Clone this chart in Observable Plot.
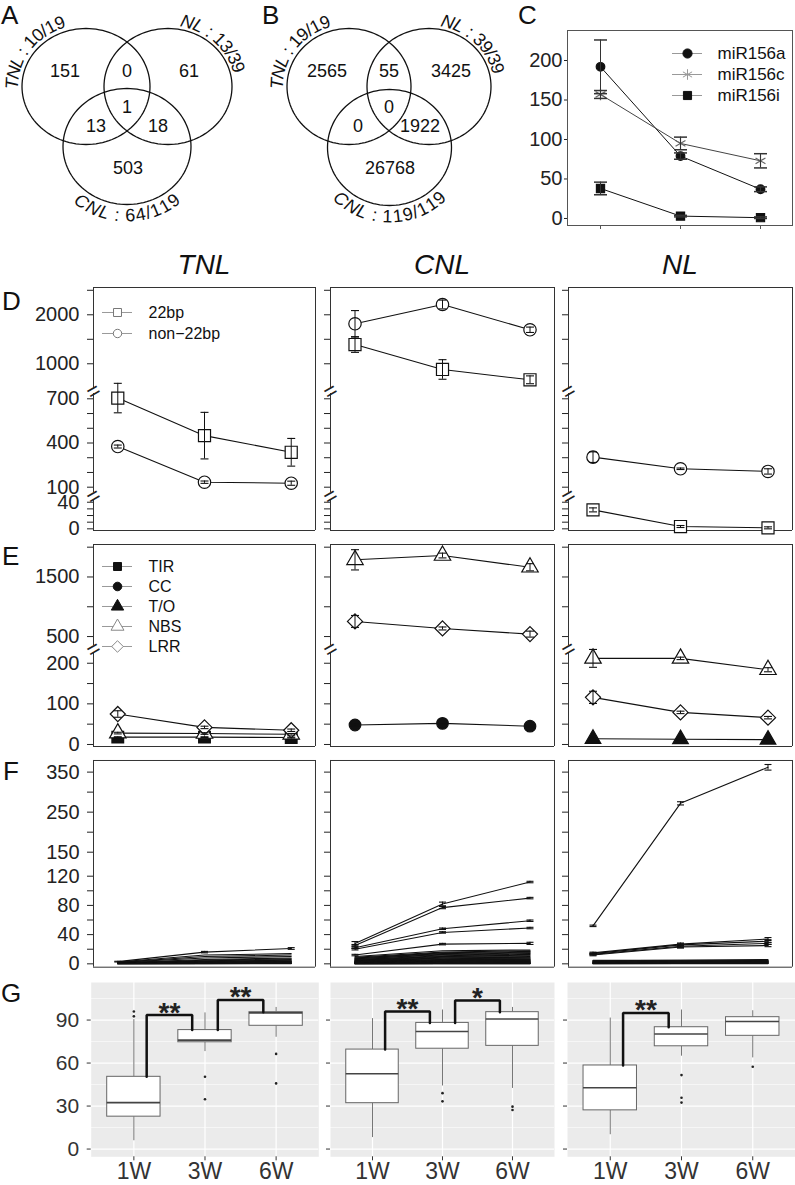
<!DOCTYPE html>
<html>
<head>
<meta charset="utf-8">
<script src="https://cdn.jsdelivr.net/npm/d3@7"></script>
<script src="https://cdn.jsdelivr.net/npm/@observablehq/plot@0.6"></script>
<style>
  html, body { margin: 0; padding: 0; background: #fff; }
  #fig { position: relative; width: 795px; height: 1185px; overflow: hidden; background: #fff;
         font-family: "Liberation Sans", Arial, sans-serif; color: #111; }
  .lbl { position: absolute; line-height: 1; white-space: nowrap; }
  .letter { font-size: 26px; }
  .title { font-size: 28px; font-style: italic; width: 200px; text-align: center; }
</style>
</head>
<body>
<div id="fig"></div>
<script>
// ================= DATA =================
const weeks = ["1W", "3W", "6W"];
const groups = ["TNL", "CNL", "NL"];

// A, B : Venn diagrams (regions: TNL only, TNL∩NL, NL only, all three, TNL∩CNL, NL∩CNL, CNL only)
const vennSets = ["TNL", "NL", "CNL"];
const vennFracA = ["10/19", "13/39", "64/119"];
const vennFracB = ["19/19", "39/39", "119/119"];
const vennCountsA = [151, 0, 61, 1, 13, 18, 503];
const vennCountsB = [2565, 55, 3425, 0, 0, 1922, 26768];

// C : miR156 abundance
const mirNames = ["miR156a", "miR156c", "miR156i"];
const mirMean = [[192, 79, 37], [157, 95, 73], [38, 3, 1]];
const mirErr = [[34, 4, 3], [5, 8, 9], [8, 1, 1]];

// D : 22bp vs non-22bp (rows: TNL, CNL, NL)
const lenClasses = ["22bp", "non−22bp"];
const d22Mean = [[705, 450, 337], [1393, 884, 673], [28.5, 3.5, 1.5]];
const d22Err = [[100, 158, 94], [160, 200, 80], [3, 1.5, 1.5]];
const dNonMean = [[376, 134, 127], [1816, 2210, 1694], [304, 225, 207]];
const dNonErr = [[10, 8, 14], [270, 90, 55], [36, 5, 18]];

// E : domains
const domainNames = ["TIR", "CC", "T/O", "NBS", "LRR"];
const eSeriesTNL = ["TIR", "NBS", "LRR"];
const eMeanTNL = [[18, 18, 17], [28, 27, 25], [75, 42, 35]];
const eErrTNL = [[1, 1, 1], [2, 2, 2], [8, 3, 3]];
const eSeriesCNL = ["CC", "NBS", "LRR"];
const eMeanCNL = [[48, 52, 45], [1788, 1860, 1663], [754, 636, 541]];
const eErrCNL = [[2, 2, 2], [170, 40, 60], [100, 25, 50]];
const eSeriesNL = ["T/O", "NBS", "LRR"];
const eMeanNL = [[14, 13, 12], [212, 212, 184], [116, 79, 66]];
const eErrNL = [[1, 1, 1], [22, 3, 5], [15, 3, 3]];

// F : individual genes
const fLinesTNL = [[3,16,21],[2.5,12,14],[2,10,12],[2,8,10],[1.5,6,8],[1.5,5,7],[1,4,6],[1,3.5,5],[1,3,4],[1,2.5,3.5],[0.8,2,3],[0.6,1.5,2.5],[0.5,1.2,2],[0.5,1,1.5],[0.4,0.8,1.2],[0.3,0.6,1],[0.2,0.5,0.8],[0.2,0.3,0.5],[0.1,0.2,0.3]];
const fErrTNL = [[0.5, 1, 1.2]];
const fLinesCNL = [[28,82,112],[25,77,90],[22,48,59],[20,43,49],[12,27,28],[10,18,19],[9,16,18],[8,15,17],[8,14,16],[7,13,15],[7,12,14],[6,11,13],[6,10,12],[5,10,11],[5,9,10],[4,8,9],[4,8,8],[4,7,8],[3,6,7],[3,6,6],[3,5,6],[2,5,5],[2,4,5],[2,4,4],[2,3,4],[1.5,3,3],[1.5,2.5,3],[1,2,2.5],[1,2,2],[1,1.5,2],[0.8,1.2,1.5],[0.6,1,1.2],[0.5,0.8,1],[0.4,0.6,0.8],[0.3,0.5,0.6],[0.2,0.4,0.5],[0.1,0.3,0.3],[0.1,0.2,0.2]];
const fErrCNL = [[2.5, 2.5, 1], [1.5, 1.5, 1], [1, 1, 1], [1, 1, 1], [1, 1, 1.5]];
const fLinesNL = [[52,272,362],[15,27,34],[14,26,31],[13,24,28],[12,23,25],[5,5,6],[4,5,5],[4,4,4.5],[3,4,4],[3,3,3.5],[2,3,3],[2,2.5,3],[2,2,2.5],[1.5,2,2],[1,1.5,2],[1,1,1.5],[0.8,1,1],[0.5,0.8,0.8],[0.3,0.5,0.5],[0.2,0.3,0.3]];
const fErrNL = [[1, 4, 7], [1, 1.5, 2], [1, 1.5, 2], [1, 1.5, 1.5], [1, 1.5, 1.5]];

// G : boxplot statistics (rows TNL, CNL, NL; cols 1W, 3W, 6W)
const gQ1 = [[22.6, 74.5, 86], [32, 70, 72], [27, 71.7, 79]];
const gMed = [[32.4, 76, 95], [52.5, 82, 90.7], [42.8, 80.3, 89]];
const gQ3 = [[50.4, 83, 95.5], [69.4, 88, 95.5], [58.3, 85, 92]];
const gLo = [[5.8, 68, 78], [8, 44, 42.3], [10, 64.8, 63.6]];
const gHi = [[90.3, 95, 98.8], [91, 97, 98.8], [91.4, 97, 96.5]];
const gOutTNL = [[96, 92.6], [50.4, 34.7], [66.4, 45.8]];
const gOutCNL = [[], [39, 33.3], [29.6, 27.3]];
const gOutNL = [[], [51.6, 35.8, 32.4], [57.4]];
const gSigTNL = [[1, 2, 93.5, "**"], [2, 3, 104, "**"]];
const gSigCNL = [[1, 2, 96, "**"], [2, 3, 103.7, "*"]];
const gSigNL = [[1, 2, 95, "**"]];

// ================= LAYOUT / STYLE =================
const FONT = '"Liberation Sans", Arial, Helvetica, sans-serif';
const FR = "#333";
const fig = document.getElementById("fig");
const xDomLine = [0.72, 3.28];
const colX = {TNL: [93, 315], CNL: [330, 554], NL: [568, 792]};
const gColX = {TNL: [90.7, 318.3], CNL: [330, 554], NL: [567, 795]};

function mount(svg, left, top) {
  svg.style.position = "absolute";
  svg.style.left = left + "px";
  svg.style.top = top + "px";
  fig.appendChild(svg);
}
function styleObj(fs) {
  return {background: "transparent", overflow: "visible", fontFamily: FONT, fontSize: fs + "px", color: "#111", maxWidth: "none"};
}
function html(text, cls, left, top) {
  const d = document.createElement("div");
  d.className = "lbl " + cls;
  d.textContent = text;
  d.style.left = left + "px";
  d.style.top = top + "px";
  fig.appendChild(d);
}
const capSym = {draw(ctx, size) { const w = Math.sqrt(size) / 2; ctx.moveTo(-w, 0); ctx.lineTo(w, 0); }};
const capR = px => px / Math.sqrt(Math.PI);

const SYM = {
  "22bp": {symbol: "square", r: 6.8, fill: "white", stroke: "#111"},
  "non−22bp": {symbol: "circle", r: 6.2, fill: "white", stroke: "#111"},
  TIR: {symbol: "square", r: 6.6, fill: "#111", stroke: "#111"},
  CC: {symbol: "circle", r: 5.8, fill: "#111", stroke: "#111"},
  "T/O": {symbol: "triangle", r: 5.8, fill: "#111", stroke: "#111"},
  NBS: {symbol: "triangle", r: 6.1, fill: "white", stroke: "#111"},
  LRR: {symbol: "diamond2", r: 6.8, fill: "white", stroke: "#111"},
  miR156a: {symbol: "circle", r: 4.3, fill: "#111", stroke: "#111"},
  miR156c: {symbol: "asterisk", r: 5.4, fill: "none", stroke: "#666"},
  miR156i: {symbol: "square", r: 4.6, fill: "#111", stroke: "#111"}
};
const LSYM = {
  "22bp": {symbol: "square", r: 4.5, fill: "white", stroke: "#777"},
  "non−22bp": {symbol: "circle", r: 4.2, fill: "white", stroke: "#777"},
  TIR: {symbol: "square", r: 4.5, fill: "#111", stroke: "#111"},
  CC: {symbol: "circle", r: 4.3, fill: "#111", stroke: "#111"},
  "T/O": {symbol: "triangle", r: 4.6, fill: "#111", stroke: "#111"},
  NBS: {symbol: "triangle", r: 4.8, fill: "white", stroke: "#888"},
  LRR: {symbol: "diamond2", r: 5.2, fill: "white", stroke: "#888"},
  miR156a: {symbol: "circle", r: 4.6, fill: "#111", stroke: "#111"},
  miR156c: {symbol: "asterisk", r: 5, fill: "none", stroke: "#999"},
  miR156i: {symbol: "square", r: 4.6, fill: "#111", stroke: "#111"}
};

function rowsOf(names, means, errs) {
  return names.flatMap((s, si) => means[si].map((m, wi) => ({series: s, week: wi + 1, mean: m, err: errs && errs[si] ? errs[si][wi] : 0})));
}

// ---------- Venn ----------
const mctx = document.createElement("canvas").getContext("2d");
function arcText(name, frac, {c, rx, ry, off, start, center, dir, fs}) {
  const parts = [{s: name, it: true}, {s: " : " + frac, it: false}];
  const chars = [];
  for (const p of parts) {
    mctx.font = (p.it ? "italic " : "") + fs + 'px "Liberation Sans"';
    for (const ch of p.s) chars.push({ch, it: p.it, w: mctx.measureText(ch).width});
  }
  const total = d3.sum(chars, d => d.w);
  const Rmid = (rx + ry) / 2 + off + fs * 0.36;
  const deg = 180 / Math.PI;
  const a0 = start !== undefined ? start : center + (total / 2) / Rmid * deg;
  let s = 0;
  return chars.map(d => {
    const a = (a0 + dir * (s + d.w / 2) / Rmid * deg) / deg;
    s += d.w;
    const rb = dir > 0 ? off : off + fs * 0.72;
    return {ch: d.ch, it: d.it, x: c[0] + (rx + rb) * Math.cos(a), y: c[1] + (ry + rb) * Math.sin(a),
            rot: a * deg + (dir > 0 ? 90 : -90)};
  });
}
function vennPlot(counts, fracs, cfg) {
  const {left, cx, L, R, B, rx, ry} = cfg;
  const circ = [L, R, B];
  const ell = circ.flatMap((c, k) => d3.range(0, 360, 3).map(a => ({k, x: c[0] + rx * Math.cos(a * Math.PI / 180), y: c[1] + ry * Math.sin(a * Math.PI / 180)})));
  const regionPos = [[-62, 71], [0, 71], [62, 71], [0, 107], [-31, 126], [31, 126], [1, 168]];
  const regions = counts.map((v, i) => ({v, x: cx + regionPos[i][0], y: regionPos[i][1]}));
  const chars = [
    ...arcText(vennSets[0], fracs[0], {c: L, rx, ry, off: 4, start: 178, dir: 1, fs: 18}),
    ...arcText(vennSets[1], fracs[1], {c: R, rx, ry, off: 3, start: 280, dir: 1, fs: 18}),
    ...arcText(vennSets[2], fracs[2], {c: B, rx, ry, off: 4, center: 90, dir: -1, fs: 18})
  ];
  const svg = Plot.plot({
    width: 262, height: 240, margin: 0, style: styleObj(18),
    x: {type: "identity", axis: null}, y: {type: "identity", axis: null},
    marks: [
      Plot.line(ell, {x: "x", y: "y", z: "k", curve: "linear-closed", stroke: "#111", strokeWidth: 1.3}),
      Plot.text(regions, {x: "x", y: "y", text: d => String(d.v), fontSize: 18, fill: "#111"}),
      Plot.text(chars.filter(d => d.it), {x: "x", y: "y", text: "ch", rotate: "rot", fontStyle: "italic", fontSize: 18, lineAnchor: "bottom", fill: "#111"}),
      Plot.text(chars.filter(d => !d.it), {x: "x", y: "y", text: "ch", rotate: "rot", fontSize: 18, lineAnchor: "bottom", fill: "#111"})
    ]
  });
  mount(svg, left, 0);
}
vennPlot(vennCountsA, vennFracA, {left: 0, cx: 126.5, L: [85.5, 86], R: [167.5, 86], B: [126.5, 146], rx: 64, ry: 58});
vennPlot(vennCountsB, vennFracB, {left: 260, cx: 128.5, L: [88.5, 86], R: [168.5, 86], B: [129, 147], rx: 62, ry: 58});

// ---------- legend ----------
function legendPlot(names, {left, top, rowH, fontSize, textX}) {
  const n = names.length;
  const marks = [Plot.ruleY(names, {y: d => d, x1: 0, x2: 30, stroke: "#999", strokeWidth: 1})];
  for (const nm of names) marks.push(Plot.dot([nm], {x: 15, y: d => d, strokeWidth: 1, ...LSYM[nm]}));
  marks.push(Plot.text(names, {x: textX, y: d => d, text: d => d, textAnchor: "start", fontSize, fill: "#111"}));
  const svg = Plot.plot({
    width: 150, height: 20 + (n - 1) * rowH, margin: 0, style: styleObj(fontSize),
    x: {type: "identity", axis: null},
    y: {type: "point", domain: names, range: [10, 10 + (n - 1) * rowH], padding: 0, align: 0.5, axis: null},
    marks
  });
  mount(svg, left, top - 10);
}

// ---------- C ----------
(function buildC() {
  const x0 = 567, x1 = 792, y0 = 30, y1 = 225, ml = 45, mr = 3, mt = 2, mb = 8;
  const pts = rowsOf(mirNames, mirMean, mirErr);
  const marks = [
    Plot.frame({stroke: "#555"}),
    Plot.axisY({ticks: [0, 50, 100, 150, 200], tickSize: 3, tickPadding: 2, fontSize: 20, color: "#222", label: null}),
    Plot.axisX({ticks: [1, 2, 3], tickFormat: () => "", tickSize: 4, color: "#555", label: null})
  ];
  for (const s of mirNames) marks.push(Plot.line(pts.filter(d => d.series === s), {x: "week", y: "mean", stroke: s === "miR156c" ? "#444" : "#111", strokeWidth: 1}));
  for (const s of mirNames) marks.push(Plot.dot(pts.filter(d => d.series === s), {x: "week", y: "mean", strokeWidth: 1.2, ...SYM[s]}));
  marks.push(Plot.ruleX(pts, {x: "week", y1: d => d.mean - d.err, y2: d => d.mean + d.err, stroke: "#333", strokeWidth: 1}));
  marks.push(Plot.dot(pts, {x: "week", y: d => d.mean - d.err, symbol: capSym, r: capR(13), fill: "none", stroke: "#333"}));
  marks.push(Plot.dot(pts, {x: "week", y: d => d.mean + d.err, symbol: capSym, r: capR(13), fill: "none", stroke: "#333"}));
  const svg = Plot.plot({
    width: x1 - x0 + ml + mr, height: y1 - y0 + mt + mb,
    marginLeft: ml, marginRight: mr, marginTop: mt, marginBottom: mb, style: styleObj(20),
    x: {domain: [0.5875, 3.4], label: null}, y: {domain: [-8.9, 238], label: null}, marks
  });
  mount(svg, x0 - ml, y0 - mt);
  legendPlot(mirNames, {left: 672, top: 52, rowH: 21.5, fontSize: 17, textX: 45});
})();

// ---------- D / E / F panels ----------
function framePlot({x0, x1, y0, y1, ml, mr, leftSegs, breaks}) {
  const mt = 2, mb = 2, top0 = y0 - mt;
  const svg = Plot.plot({
    width: x1 - x0 + ml + mr, height: y1 - y0 + mt + mb,
    marginLeft: ml, marginRight: mr, marginTop: mt, marginBottom: mb, style: styleObj(20),
    x: {domain: xDomLine, axis: null}, y: {type: "identity", axis: null},
    marks: [
      Plot.ruleY([y0 - top0, y1 - top0], {stroke: FR, strokeWidth: 1}),
      Plot.ruleX([xDomLine[1]], {y1: y0 - top0, y2: y1 - top0, stroke: FR, strokeWidth: 1}),
      Plot.ruleX(leftSegs, {x: xDomLine[0], y1: d => d[0] - top0, y2: d => d[1] - top0, stroke: FR, strokeWidth: 1}),
      Plot.text(breaks, {x: xDomLine[0], y: d => d - top0, text: () => "=", rotate: -30, fontSize: 22, fill: "#222"})
    ]
  });
  mount(svg, x0 - ml, top0);
}
// seg.fwd (optional): piecewise stretch of the value axis (broken / compressed axis)
function segmentPlot({x0, x1, ml, mr, seg, pts, showLabels, capW, lineW, withDots}) {
  const fwd = seg.fwd || (v => v);
  const segTop = Math.min(...seg.rangeAbs), segBot = Math.max(...seg.rangeAbs);
  const mt = 2, mb = 2, top0 = segTop - mt;
  const tickVals = seg.ticks.map(fwd);
  const tickLabel = new Map(seg.ticks.map(t => [fwd(t), t]));
  const eb = pts.filter(d => d.err > 0);
  const marks = [
    Plot.axisY({ticks: tickVals, tickFormat: u => { const t = tickLabel.get(u); return (showLabels && seg.labeled.includes(t)) ? String(t) : ""; },
      tickSize: 6, tickPadding: 8, fontSize: 20, color: "#222", label: null}),
    Plot.line(pts, {x: "week", y: d => fwd(d.mean), z: "series", stroke: "#111", strokeWidth: lineW})
  ];
  if (withDots) {
    for (const s of [...new Set(pts.map(d => d.series))]) {
      marks.push(Plot.dot(pts.filter(d => d.series === s), {x: "week", y: d => fwd(d.mean), strokeWidth: 1.2, ...SYM[s]}));
    }
  }
  marks.push(Plot.ruleX(eb, {x: "week", y1: d => fwd(d.mean - d.err), y2: d => fwd(d.mean + d.err), stroke: "#111", strokeWidth: 1}));
  marks.push(Plot.dot(eb, {x: "week", y: d => fwd(d.mean - d.err), symbol: capSym, r: capR(capW), fill: "none", stroke: "#111", strokeWidth: 1.1}));
  marks.push(Plot.dot(eb, {x: "week", y: d => fwd(d.mean + d.err), symbol: capSym, r: capR(capW), fill: "none", stroke: "#111", strokeWidth: 1.1}));
  const svg = Plot.plot({
    width: x1 - x0 + ml + mr, height: segBot - segTop + mt + mb,
    marginLeft: ml, marginRight: mr, marginTop: mt, marginBottom: mb, style: styleObj(20),
    x: {domain: xDomLine, axis: null, label: null},
    y: {domain: seg.domain.map(fwd), range: seg.rangeAbs.map(v => v - top0), label: null},
    marks
  });
  mount(svg, x0 - ml, top0);
}
function buildPanel({gi, y0, y1, segs, leftSegs, breaks, pts, segOf, capW, lineW, withDots}) {
  const [x0, x1] = colX[groups[gi]];
  const ml = gi === 0 ? 93 : 12, mr = 4;
  framePlot({x0, x1, y0, y1, ml, mr, leftSegs, breaks});
  segs.forEach((seg, si) => {
    segmentPlot({x0, x1, ml, mr, seg, pts: pts.filter(d => segOf(d) === si), showLabels: gi === 0, capW, lineW, withDots});
  });
}

// D
const dSegs = [
  {domain: [475, 2557], rangeAbs: [389, 287], ticks: [1000, 1500, 2000, 2500], labeled: [1000, 2000]},
  {domain: [64, 736], rangeAbs: [492, 393], ticks: [100, 200, 300, 400, 500, 600, 700], labeled: [100, 400, 700]},
  {domain: [-2.5, 42.6], rangeAbs: [530, 500], ticks: [0, 10, 20, 30, 40], labeled: [0, 40]}
];
groups.forEach((g, gi) => {
  const pts = rowsOf(lenClasses, [d22Mean[gi], dNonMean[gi]], [d22Err[gi], dNonErr[gi]]);
  buildPanel({gi, y0: 287, y1: 530, segs: dSegs, leftSegs: [[287, 389], [393, 492], [500, 530]], breaks: [391, 496],
    pts, segOf: d => g === "CNL" ? 0 : (d.mean < 50 ? 2 : 1), capW: 8, lineW: 1.1, withDots: true});
});
legendPlot(lenClasses, {left: 102, top: 311.7, rowH: 21.6, fontSize: 16, textX: 46});

// E
const eSegs = [
  {domain: [350, 2045], rangeAbs: [645, 544], ticks: [500, 1000, 1500, 2000], labeled: [500, 1500]},
  {domain: [-5, 224], rangeAbs: [746, 653], ticks: [0, 50, 100, 150, 200], labeled: [0, 100, 200]}
];
const eAll = [[eSeriesTNL, eMeanTNL, eErrTNL], [eSeriesCNL, eMeanCNL, eErrCNL], [eSeriesNL, eMeanNL, eErrNL]];
groups.forEach((g, gi) => {
  const [names, means, errs] = eAll[gi];
  const pts = rowsOf(names, means, errs);
  buildPanel({gi, y0: 544, y1: 746, segs: eSegs, leftSegs: [[544, 645], [653, 746]], breaks: [649],
    pts, segOf: d => (g === "CNL" && d.series !== "CC") ? 0 : 1, capW: 8, lineW: 1.1, withDots: true});
});
legendPlot(domainNames, {left: 102, top: 565, rowH: 20.6, fontSize: 16, textX: 46});

// F : compressed axis, 0–120 stretched, 150–350 compressed
const fStretch = d3.scaleLinear().domain([-4.6, 120, 150, 379]).range([0, 91, 115, 206.7]);
const fSegs = [
  {domain: [-4.6, 379], rangeAbs: [966.7, 760], fwd: v => fStretch(v),
   ticks: [0, 20, 40, 60, 80, 100, 120, 150, 200, 250, 300, 350], labeled: [0, 40, 80, 120, 150, 250, 350]}
];
const fAll = [[fLinesTNL, fErrTNL], [fLinesCNL, fErrCNL], [fLinesNL, fErrNL]];
groups.forEach((g, gi) => {
  const [lines, errs] = fAll[gi];
  const pts = rowsOf(lines.map((_, k) => g + "-" + k), lines, errs);
  buildPanel({gi, y0: 760, y1: 966.7, segs: fSegs, leftSegs: [[760, 966.7]], breaks: [],
    pts, segOf: () => 0, capW: 7, lineW: 1.1, withDots: false});
});

// ---------- G ----------
const gOutAll = [gOutTNL, gOutCNL, gOutNL];
const gSigAll = [gSigTNL, gSigCNL, gSigNL];
groups.forEach((g, gi) => {
  const [x0, x1] = gColX[g];
  const y0 = 981.7, y1 = 1156;
  const ml = gi === 0 ? 90.7 : 12, mr = 2, mt = 2, mb = 27;
  const boxes = weeks.map((w, wi) => ({week: wi + 1, q1: gQ1[gi][wi], med: gMed[gi][wi], q3: gQ3[gi][wi], lo: gLo[gi][wi], hi: gHi[gi][wi]}));
  const outl = gOutAll[gi].flatMap((arr, wi) => arr.map(v => ({week: wi + 1, v})));
  const brPts = gSigAll[gi].flatMap(([a, b, top], k) => [
    {k, x: a + 0.18, y: gQ3[gi][a - 1]}, {k, x: a + 0.18, y: top},
    {k, x: b - 0.18, y: top}, {k, x: b - 0.18, y: gQ3[gi][b - 1]}
  ]);
  const brText = gSigAll[gi].map(([a, b, top, t]) => ({x: (a + b) / 2, y: top, t}));
  const svg = Plot.plot({
    width: x1 - x0 + ml + mr, height: y1 - y0 + mt + mb,
    marginLeft: ml, marginRight: mr, marginTop: mt, marginBottom: mb, style: styleObj(20),
    x: {domain: [0.4, 3.6], label: null}, y: {domain: [-5.4, 116.2], label: null},
    marks: [
      Plot.frame({fill: "#EBEBEB", stroke: null}),
      Plot.ruleY([15, 45, 75, 105], {stroke: "white", strokeWidth: 0.6}),
      Plot.ruleY([0, 30, 60, 90], {stroke: "white", strokeWidth: 1.2}),
      Plot.ruleX([1, 2, 3], {stroke: "white", strokeWidth: 1.2}),
      Plot.ruleX(boxes, {x: "week", y1: "lo", y2: "q1", stroke: "#666", strokeWidth: 0.9}),
      Plot.ruleX(boxes, {x: "week", y1: "q3", y2: "hi", stroke: "#666", strokeWidth: 0.9}),
      Plot.rect(boxes, {x1: d => d.week - 0.375, x2: d => d.week + 0.375, y1: "q1", y2: "q3", fill: "white", stroke: "#666", strokeWidth: 1}),
      Plot.ruleY(boxes, {y: "med", x1: d => d.week - 0.375, x2: d => d.week + 0.375, stroke: "#444", strokeWidth: 1.6}),
      Plot.dot(outl, {x: "week", y: "v", r: 1.3, fill: "#222", stroke: null}),
      Plot.line(brPts, {x: "x", y: "y", z: "k", stroke: "#111", strokeWidth: 2.5, strokeLinejoin: "miter"}),
      Plot.text(brText, {x: "x", y: "y", text: "t", fontSize: 28, fontWeight: "bold", lineAnchor: "bottom", dy: 6.5, fill: "#222"}),
      Plot.axisY({ticks: [0, 30, 60, 90], tickFormat: d => gi === 0 ? String(d) : "", tickSize: 4, tickPadding: 8, fontSize: 21, color: "#333", label: null}),
      Plot.axisX({ticks: [1, 2, 3], tickFormat: d => weeks[d - 1], tickSize: 4, tickPadding: 2, fontSize: 23, color: "#333", label: null})
    ]
  });
  mount(svg, x0 - ml, y0 - mt);
});

// ---------- text labels ----------
html("A", "letter", 1, 1.5);
html("B", "letter", 262, 1.5);
html("C", "letter", 518, 1.5);
html("D", "letter", 2, 288);
html("E", "letter", 2, 543);
html("F", "letter", 3, 758);
html("G", "letter", 1, 979.7);
const titleCx = {TNL: 204, CNL: 442, NL: 680};
groups.forEach(g => html(g, "title", titleCx[g] - 100, 251.3));
</script>
</body>
</html>
